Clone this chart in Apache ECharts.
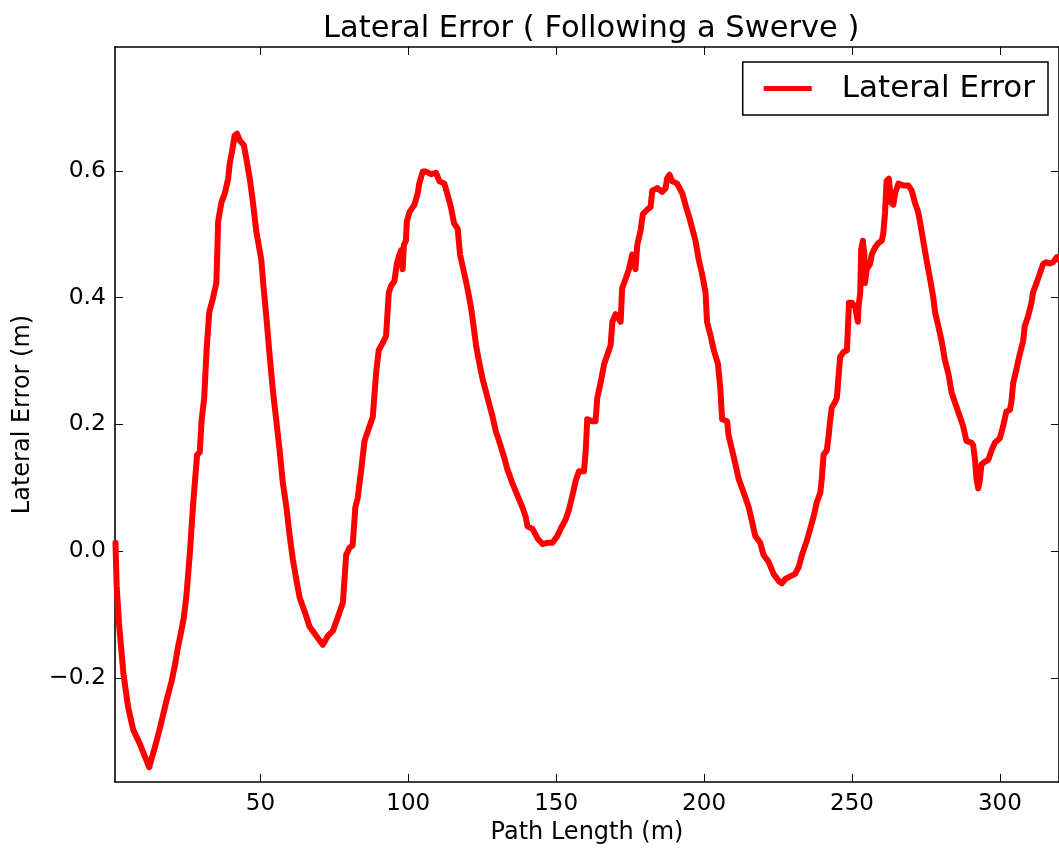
<!DOCTYPE html>
<html>
<head>
<meta charset="utf-8">
<script src="https://cdn.jsdelivr.net/npm/echarts@6/dist/echarts.min.js"></script>
<style>
html,body{margin:0;padding:0;background:#fff;}
#chart{width:1059px;height:853px;}
</style>
</head>
<body>
<div id="chart"></div>
<script>
// ---- Data ----
const seg1X = [1.0, 1.4, 2.2, 3.7, 5.3, 7.0, 9.3, 11.0, 12.4, 14.3, 16.0, 18.3, 20.0, 21.1, 22.2, 23.3, 24.1, 25.0, 26.2, 27.3, 28.6, 29.5, 30.1, 31.0, 31.8, 32.7, 34.0, 35.1, 35.4, 35.7, 36.8, 38.0, 39.1, 39.6, 40.5, 41.3, 42.1, 43.0, 44.4, 45.3, 46.4, 47.5, 48.6, 50.3, 51.1, 52.0, 53.1, 54.3, 55.4, 56.5, 57.6, 58.8, 59.9, 61.0, 62.1, 63.3, 65.0, 66.6, 68.3, 70.0, 71.1, 72.8, 74.5, 76.2];
const seg1Y = [0.013, -0.055, -0.115, -0.194, -0.247, -0.282, -0.305, -0.325, -0.341, -0.31, -0.28, -0.235, -0.205, -0.18, -0.15, -0.125, -0.105, -0.07, 0.0, 0.077, 0.152, 0.156, 0.205, 0.242, 0.317, 0.377, 0.400, 0.423, 0.468, 0.520, 0.550, 0.565, 0.588, 0.611, 0.633, 0.656, 0.659, 0.648, 0.641, 0.618, 0.588, 0.550, 0.505, 0.460, 0.415, 0.370, 0.310, 0.250, 0.205, 0.159, 0.107, 0.069, 0.024, -0.014, -0.044, -0.074, -0.096, -0.119, -0.130, -0.141, -0.148, -0.134, -0.126, -0.104];

const seg2X = [77.9, 79.0, 80.1, 81.2, 82.1, 82.9, 84.1, 85.2, 86.9, 88.0, 89.1, 90.0, 91.4, 92.5, 93.4, 94.2, 95.3, 96.1, 97.0, 97.6, 98.1, 98.5, 99.2, 99.5, 100.4, 102.1, 103.2, 103.7, 104.9, 106.0, 107.7, 109.4, 110.5, 112.2, 113.3, 114.4, 115.5, 116.7, 117.5, 118.4, 120.0, 121.2, 122.3, 122.9, 123.8, 125.1, 126.8, 128.5, 129.6, 130.7, 132.4, 133.5, 135.2, 136.9, 138.6, 139.7, 140.3, 142.0, 143.7, 145.4, 147.0, 148.7, 150.4, 151.5, 153.2, 154.3, 155.5, 156.6, 157.7];
const seg2Y = [-0.081, -0.006, 0.005, 0.009, 0.069, 0.084, 0.129, 0.174, 0.197, 0.212, 0.280, 0.317, 0.329, 0.340, 0.408, 0.419, 0.426, 0.453, 0.468, 0.475, 0.445, 0.483, 0.490, 0.520, 0.535, 0.547, 0.565, 0.580, 0.599, 0.599, 0.595, 0.597, 0.584, 0.580, 0.562, 0.543, 0.517, 0.509, 0.468, 0.449, 0.415, 0.385, 0.347, 0.325, 0.302, 0.272, 0.242, 0.212, 0.189, 0.174, 0.148, 0.129, 0.107, 0.088, 0.069, 0.054, 0.039, 0.035, 0.020, 0.011, 0.013, 0.013, 0.024, 0.035, 0.050, 0.065, 0.088, 0.111, 0.126];

const seg3X = [159.4, 160.0, 160.5, 162.2, 163.3, 163.9, 165.0, 165.6, 166.2, 167.3, 168.4, 169.0, 170.1, 171.8, 172.3, 173.5, 174.6, 175.7, 176.8, 177.4, 178.5, 179.3, 180.8, 181.9, 182.5, 184.2, 185.8, 187.0, 187.5, 188.3, 189.2, 190.9, 192.6, 193.7, 195.4, 197.1, 198.2, 199.3, 200.5, 201.0, 202.2, 203.3, 204.7, 205.5, 206.1, 207.8, 208.3, 209.5, 210.6, 211.7, 213.4, 215.1, 216.2, 217.3, 219.0, 220.1, 221.8, 223.5, 225.2, 226.3, 227.5, 229.1, 230.8, 232.0, 233.1, 234.8];
const seg3Y = [0.126, 0.159, 0.208, 0.205, 0.205, 0.242, 0.265, 0.280, 0.295, 0.310, 0.325, 0.362, 0.374, 0.362, 0.415, 0.430, 0.445, 0.468, 0.445, 0.483, 0.505, 0.532, 0.539, 0.543, 0.569, 0.573, 0.567, 0.573, 0.588, 0.594, 0.584, 0.580, 0.565, 0.547, 0.520, 0.490, 0.460, 0.438, 0.408, 0.362, 0.340, 0.317, 0.295, 0.257, 0.208, 0.205, 0.182, 0.159, 0.137, 0.114, 0.092, 0.069, 0.047, 0.024, 0.013, -0.006, -0.017, -0.036, -0.047, -0.051, -0.044, -0.040, -0.036, -0.025, -0.006, 0.017];

const seg4X = [237.0, 238.1, 239.3, 239.8, 240.4, 241.5, 242.1, 242.6, 243.2, 244.3, 244.9, 245.4, 246.0, 247.1, 248.3, 248.8, 249.0, 250.0, 251.1, 252.0, 252.2, 252.8, 253.1, 253.7, 254.2, 254.4, 255.0, 256.1, 256.7, 257.8, 258.9, 260.1, 260.6, 261.2, 261.7, 262.5, 263.2, 264.0, 264.6, 265.7, 267.4, 269.1, 270.2, 271.3, 272.4, 273.0, 274.1, 275.2, 276.4, 277.5, 278.1, 279.2, 280.3, 281.4, 282.6, 283.7, 284.8, 286.5, 287.6, 288.7, 290.4, 291.0, 291.6, 292.1, 292.7, 293.2, 293.8, 294.9, 296.1, 297.2, 298.3, 300.0, 301.1, 302.2, 303.4, 303.9, 304.5, 305.6, 306.7, 307.9, 308.4, 309.5, 310.7, 311.2, 312.4, 313.5, 314.6, 315.7, 316.9, 318.0, 319.3, 320.0];
const seg4Y = [0.054, 0.077, 0.092, 0.114, 0.152, 0.159, 0.182, 0.205, 0.227, 0.235, 0.242, 0.272, 0.306, 0.314, 0.317, 0.370, 0.392, 0.392, 0.385, 0.362, 0.385, 0.408, 0.475, 0.490, 0.468, 0.423, 0.445, 0.453, 0.468, 0.479, 0.486, 0.490, 0.502, 0.535, 0.584, 0.588, 0.550, 0.547, 0.565, 0.580, 0.577, 0.577, 0.569, 0.550, 0.535, 0.520, 0.490, 0.460, 0.430, 0.400, 0.377, 0.355, 0.332, 0.302, 0.280, 0.250, 0.235, 0.212, 0.197, 0.174, 0.171, 0.167, 0.144, 0.114, 0.099, 0.111, 0.137, 0.141, 0.144, 0.159, 0.171, 0.178, 0.197, 0.220, 0.223, 0.235, 0.265, 0.287, 0.310, 0.332, 0.355, 0.370, 0.392, 0.408, 0.423, 0.438, 0.453, 0.456, 0.454, 0.456, 0.464, 0.460];

const xTicks = [50, 100, 150, 200, 250, 300];
const yTicks = [-0.2, 0.0, 0.2, 0.4, 0.6];

const pathLength = [].concat(seg1X, seg2X, seg3X, seg4X);
const lateralError = [].concat(seg1Y, seg2Y, seg3Y, seg4Y);

// ---- Chart ----
const FONT = 'DejaVu Sans';
const chart = echarts.init(document.getElementById('chart'), null, {renderer: 'canvas'});
const n = Math.min(pathLength.length, lateralError.length);
const pts = [];
for (let i = 0; i < n; i++) pts.push([pathLength[i], lateralError[i]]);

const fmtY = v => (v < -1e-9 ? '\u2212' : '') + Math.abs(v).toFixed(1);

const spine = {show: true, onZero: false, lineStyle: {color: '#000', width: 1.6}};
const tick = vals => ({show: true, inside: true, length: 8, customValues: vals, lineStyle: {color: '#000', width: 1}});

chart.setOption({
  animation: false,
  backgroundColor: '#fff',
  title: {
    text: 'Lateral Error ( Following a Swerve )',
    left: 318, top: 9,
    textStyle: {fontFamily: FONT, fontSize: 30.5, fontWeight: 'normal', color: '#000'}
  },
  legend: {
    right: 11, top: 62,
    icon: 'rect', itemWidth: 48, itemHeight: 5, itemGap: 0,
    padding: [11, 13, 11, 21],
    borderColor: '#000', borderWidth: 1.5, borderRadius: 0,
    backgroundColor: '#fff',
    textStyle: {fontFamily: FONT, fontSize: 31, color: '#000', padding: [0, 0, 0, 25]},
    data: [{name: 'Lateral Error', itemStyle: {color: '#ff0000'}}]
  },
  grid: {left: 115, top: 47, width: 946, height: 735, containLabel: false},
  xAxis: [
    {
      type: 'value', position: 'bottom', min: 0.84, max: 320,
      axisLine: spine, axisTick: tick(xTicks), splitLine: {show: false},
      axisLabel: {customValues: xTicks, fontFamily: FONT, fontSize: 23, color: '#000', margin: 11},
      name: 'Path Length (m)', nameLocation: 'middle', nameGap: 38,
      nameTextStyle: {fontFamily: FONT, fontSize: 24, color: '#000'}
    },
    {
      type: 'value', position: 'top', min: 0.84, max: 320,
      axisLine: spine, axisTick: tick(xTicks), splitLine: {show: false},
      axisLabel: {show: false}
    }
  ],
  yAxis: [
    {
      type: 'value', position: 'left', min: -0.3645, max: 0.7957,
      axisLine: spine, axisTick: tick(yTicks), splitLine: {show: false},
      axisLabel: {customValues: yTicks, formatter: fmtY, fontFamily: FONT, fontSize: 23.5, color: '#000', margin: 9},
      name: 'Lateral Error (m)', nameLocation: 'middle', nameGap: 80,
      nameTextStyle: {fontFamily: FONT, fontSize: 24, color: '#000'}
    },
    {
      type: 'value', position: 'right', min: -0.3645, max: 0.7957,
      axisLine: spine, axisTick: tick(yTicks), splitLine: {show: false},
      axisLabel: {show: false}
    }
  ],
  series: [{
    name: 'Lateral Error', type: 'line', data: pts,
    showSymbol: false, symbol: 'none', color: '#ff0000',
    lineStyle: {color: '#ff0000', width: 6, join: 'round', cap: 'round'},
    xAxisIndex: 0, yAxisIndex: 0
  }]
});
</script>
</body>
</html>
